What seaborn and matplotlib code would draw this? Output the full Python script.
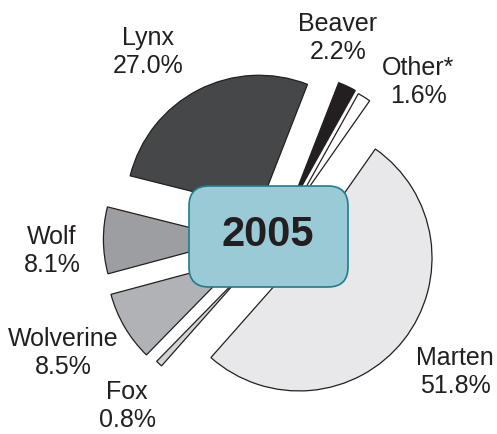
import matplotlib
matplotlib.use("Agg")
import matplotlib.pyplot as plt
from matplotlib.patches import FancyBboxPatch
import seaborn as sns

# data, counterclockwise from the Marten/Other boundary
species = ["Other*", "Beaver", "Lynx", "Wolf", "Wolverine", "Fox", "Marten"]
shares = [1.6, 2.2, 27.0, 8.1, 8.5, 0.8, 51.8]
year_label = "2005"

colors = ["#FFFFFF", "#231F20", "#464749", "#9D9EA1", "#B1B2B5", "#D3D4D6", "#E8E8EA"]
explode_frac = [0.26, 0.27, 0.26, 0.29, 0.31, 0.28, 0.23]
# label centres in pixels (x, y from top)
label_pos = [(418, 82), (338, 38), (148, 52), (52, 251), (63, 353), (127, 406), (455, 372)]

sns.set_theme(style="white")
plt.rcParams["font.family"] = ["Liberation Sans", "DejaVu Sans"]

W, H = 497, 435
fig = plt.figure(figsize=(W / 100, H / 100), dpi=100)
ax = fig.add_axes([0, 0, 1, 1])

cx, cy, r = 275, 240, 133
# pie explode is in data units, so scale by radius
ax.pie(shares, explode=[e * r for e in explode_frac], colors=colors,
       startangle=55, counterclock=True, radius=r, center=(cx, -cy),
       wedgeprops=dict(edgecolor="#231F20", linewidth=0.9))

for name, val, (x, y) in zip(species, shares, label_pos):
    ax.text(x, -y, f"{name}\n{val:.1f}%", ha="center", va="center",
            fontsize=18, color="#231F20", linespacing=1.25)

box = FancyBboxPatch((189 + 20, -288 + 20), 159 - 40, 101 - 40,
                     boxstyle="round,pad=20", facecolor="#9ACAD5",
                     edgecolor="#1E7D8C", linewidth=1.2, zorder=5)
ax.add_patch(box)
ax.text(268, -235, year_label, ha="center", va="center", fontsize=30,
        fontweight="bold", color="#231F20", zorder=6)

ax.set_xlim(0, W)
ax.set_ylim(-H, 0)
ax.set_aspect("equal")
ax.axis("off")

fig.savefig("out.png", dpi=100, facecolor="white")
